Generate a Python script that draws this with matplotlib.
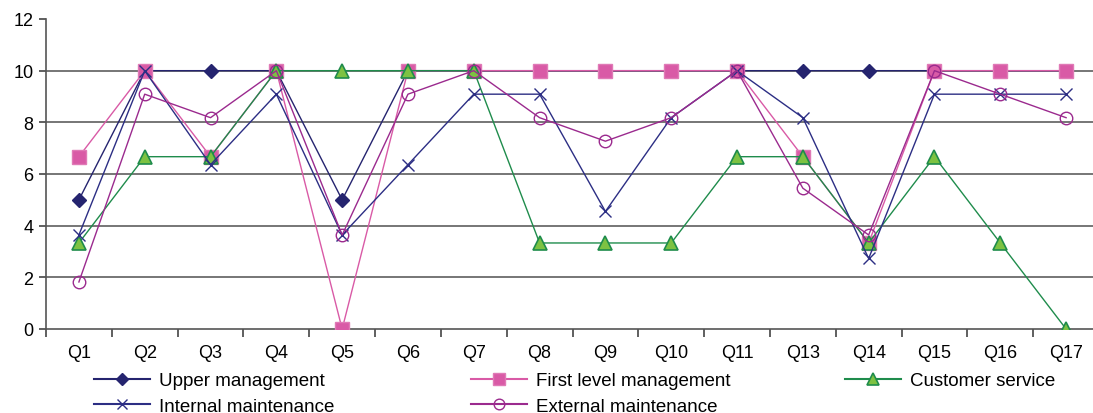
import matplotlib.pyplot as plt
from matplotlib.lines import Line2D

plt.rcParams['font.family'] = ['Liberation Sans', 'DejaVu Sans']

# question labels along the x axis
questions = ['Q1', 'Q2', 'Q3', 'Q4', 'Q5', 'Q6', 'Q7', 'Q8', 'Q9', 'Q10',
             'Q11', 'Q13', 'Q14', 'Q15', 'Q16', 'Q17']

# scores per group
upper_mgmt = [5, 10, 10, 10, 5, 10, 10, 10, 10, 10, 10, 10, 10, 10, 10, 10]
first_level = [6.67, 10, 6.67, 10, 0, 10, 10, 10, 10, 10, 10, 6.67, 3.33, 10, 10, 10]
customer_service = [3.33, 6.67, 6.67, 10, 10, 10, 10, 3.33, 3.33, 3.33,
                    6.67, 6.67, 3.33, 6.67, 3.33, 0]
internal_maint = [3.64, 10, 6.36, 9.09, 3.64, 6.36, 9.09, 9.09, 4.55, 8.18,
                  10, 8.18, 2.73, 9.09, 9.09, 9.09]
external_maint = [1.82, 9.09, 8.18, 10, 3.64, 9.09, 10, 8.18, 7.27, 8.18,
                  10, 5.45, 3.64, 10, 9.09, 8.18]

x = list(range(len(questions)))

fig = plt.figure(figsize=(10.93, 4.14), dpi=100)
ax = fig.add_axes([46 / 1093, 84 / 414, 1053 / 1093, 310 / 414])

# horizontal grid lines
for yv in [2, 4, 6, 8, 10]:
    ax.axhline(yv, color='#6b6b6b', lw=1.3, zorder=0)

lw = 1.0
l1, = ax.plot(x, upper_mgmt, color='#25246f', lw=lw, marker='D', ms=7,
              mfc='#25246f', mec='#25246f', label='Upper management', zorder=2)
l2, = ax.plot(x, first_level, color='#d95aa6', lw=lw, marker='s', ms=9.5,
              mfc='#d95aa6', mec='#e07ab6', label='First level management', zorder=3)
l3, = ax.plot(x, customer_service, color='#1f8c4c', lw=lw, marker='^', ms=10,
              mfc='#7dc242', mec='#1f8c4c', mew=1.2, label='Customer service', zorder=4)
l4, = ax.plot(x, internal_maint, color='#2c2e84', lw=lw, marker='x', ms=9,
              mew=1.0, label='Internal maintenance', zorder=5)
l5, = ax.plot(x, external_maint, color='#9b2a8e', lw=lw, marker='o', ms=9,
              mfc='none', mec='#9b2a8e', mew=1.0, label='External maintenance', zorder=6)

ax.set_xlim(-0.5, len(questions) - 0.5)
ax.set_ylim(0, 12)
ax.set_yticks(range(0, 13, 2))
ax.set_xticks([i + 0.5 for i in range(-1, len(questions))], minor=False)
ax.set_xticklabels([])
ax.set_xticks(x, minor=True)
ax.set_xticklabels(questions, minor=True)
ax.tick_params(axis='x', which='minor', length=0, pad=11, labelsize=13)
ax.tick_params(axis='x', which='major', length=6, width=1.2, color='#444444', direction='out')
ax.tick_params(axis='y', length=5, width=1.2, color='#444444', labelsize=13, pad=4)

for side in ['top', 'right']:
    ax.spines[side].set_visible(False)
for side in ['left', 'bottom']:
    ax.spines[side].set_color('#555555')
    ax.spines[side].set_linewidth(1.2)

# legend laid out as three columns
def handle(line):
    return Line2D([], [], color=line.get_color(), lw=1.5, marker=line.get_marker(),
                  ms=line.get_markersize() * 0.85, mfc=line.get_markerfacecolor(),
                  mec=line.get_markeredgecolor(), mew=line.get_markeredgewidth())

kw = dict(frameon=False, fontsize=13.5, handlelength=3.0, handletextpad=0.45,
          labelspacing=0.45, borderpad=0, borderaxespad=0, loc='upper left')
top = 1 - 373 / 414
fig.legend([handle(l1), handle(l4)], [l1.get_label(), l4.get_label()],
           bbox_to_anchor=(94 / 1093, top), **kw)
fig.legend([handle(l2), handle(l5)], [l2.get_label(), l5.get_label()],
           bbox_to_anchor=(471 / 1093, top), **kw)
fig.legend([handle(l3)], [l3.get_label()],
           bbox_to_anchor=(845 / 1093, top), **kw)

fig.savefig('out.png', dpi=100)
